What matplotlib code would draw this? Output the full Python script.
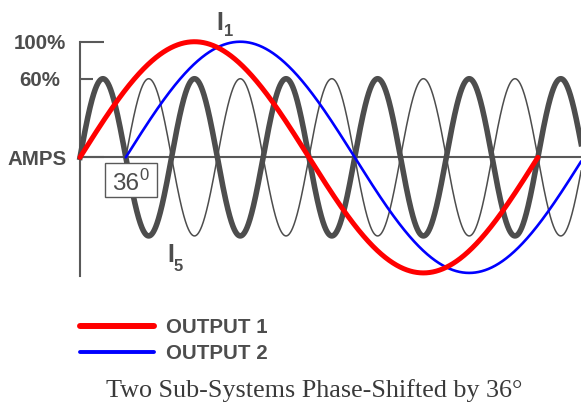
import numpy as np
import matplotlib
matplotlib.use("Agg")
import matplotlib.pyplot as plt
from matplotlib.patches import Rectangle

# Waveform parameters (angles in electrical degrees, currents in per-unit of I1 peak)
series_names = ["OUTPUT 1", "OUTPUT 2"]
phase_shift_deg = [0, 36]          # sub-system 2 is shifted by 36 degrees
fundamental_peak = 1.0             # I1 = 100 %
fifth_peak = 0.68                  # I5 amplitude
harmonic_order = 5
cycle_deg = 360
end_deg = 394                      # right end of the zero line

major_ticks = [0.0, 1.0]
major_labels = ["AMPS", "100%"]
minor_ticks = [0.68]
minor_labels = ["60%"]

TEXT = "#4d4d4d"
AXIS = "#595959"
HARM = "#4d4d4d"

fig = plt.figure(figsize=(5.81, 4.04), dpi=100)
ax = fig.add_axes([0, 0, 1, 1])
ax.set_xlim(-62.9, 393.9)
ax.set_ylim(-2.134, 1.361)
ax.patch.set_visible(False)

# Axes drawn as spines crossing at the origin
for side in ("top", "right"):
    ax.spines[side].set_visible(False)
ax.spines["left"].set_position(("data", 0))
ax.spines["bottom"].set_position(("data", 0))
ax.spines["left"].set_bounds(-1.03, 1.0)
ax.spines["bottom"].set_bounds(0, end_deg)
for side in ("left", "bottom"):
    ax.spines[side].set_color(AXIS)
    ax.spines[side].set_linewidth(1.5)
ax.set_xticks([])
ax.set_yticks(major_ticks, major_labels)
ax.set_yticks(minor_ticks, minor_labels, minor=True)
ax.tick_params(axis="y", which="major", direction="in", length=17.5, width=1.5,
               color=AXIS, pad=10, labelsize=14.8, labelcolor=TEXT)
ax.tick_params(axis="y", which="minor", direction="in", length=9, width=1.5,
               color=AXIS, pad=14.3, labelsize=14.8, labelcolor=TEXT)
for lbl in ax.get_yticklabels() + ax.get_yticklabels(minor=True):
    lbl.set_fontfamily("Liberation Sans")
    lbl.set_fontweight("bold")

# Fifth-harmonic currents of each sub-system
th_h1 = np.linspace(phase_shift_deg[0], end_deg, 3000)
th_h2 = np.linspace(phase_shift_deg[1], end_deg, 3000)
i5_1 = fifth_peak * np.sin(np.radians(harmonic_order * (th_h1 - phase_shift_deg[0])))
i5_2 = fifth_peak * np.sin(np.radians(harmonic_order * (th_h2 - phase_shift_deg[1])))
ax.plot(th_h2, i5_2, color=HARM, lw=1.1, zorder=3, clip_on=False)
ax.plot(th_h1, i5_1, color=HARM, lw=4.0, zorder=4, clip_on=False)

# Fundamental outputs of the two sub-systems
th_1 = np.linspace(phase_shift_deg[0], phase_shift_deg[0] + cycle_deg, 2000)
th_2 = np.linspace(phase_shift_deg[1], min(phase_shift_deg[1] + cycle_deg, end_deg), 2000)
out1 = fundamental_peak * np.sin(np.radians(th_1 - phase_shift_deg[0]))
out2 = fundamental_peak * np.sin(np.radians(th_2 - phase_shift_deg[1]))
l2, = ax.plot(th_2, out2, color="#0000ff", lw=1.9, zorder=5,
              solid_capstyle="round", label=series_names[1])
l1, = ax.plot(th_1, out1, color="#ff0000", lw=3.6, zorder=6,
              solid_capstyle="round", label=series_names[0])

# Current labels
bold = dict(family="Liberation Sans", weight="bold", color=TEXT, va="baseline", ha="left")
ax.text(106.9, 1.101, "I", fontsize=18, **bold)
ax.text(113.2, 1.049, "1", fontsize=12, **bold)
ax.text(68.5, -0.906, "I", fontsize=18, **bold)
ax.text(73.9, -0.984, "5", fontsize=12, **bold)

# Phase-shift callout
ax.add_patch(Rectangle((19.6, -0.344), 40.9, 0.294, facecolor="white",
                       edgecolor=AXIS, lw=1.0, zorder=7))
reg = dict(family="Liberation Sans", color=TEXT, va="baseline", ha="left", zorder=8)
ax.text(25.0, -0.283, "36", fontsize=17.5, **reg)
ax.text(46.5, -0.200, "0", fontsize=12, **reg)

# Legend
leg = ax.legend(handles=[l1, l2], loc="upper left", bbox_to_anchor=(79.5 / 581, 1 - 318 / 404),
                bbox_transform=fig.transFigure, frameon=False, borderpad=0, borderaxespad=0,
                handlelength=3.6, handletextpad=0.6, labelspacing=0.35,
                prop=dict(family="Liberation Sans", weight="bold", size=14.8))
for txt in leg.get_texts():
    txt.set_color(TEXT)
leg.get_lines()[0].set_linewidth(4.3)
leg.get_lines()[1].set_linewidth(2.8)

fig.text(314.5 / 581, 1 - 397 / 404, "Two Sub-Systems Phase-Shifted by 36°",
         family="Liberation Serif", fontsize=18.8, color="#3a3a3a", ha="center", va="baseline")

fig.savefig("out.png", dpi=100)
